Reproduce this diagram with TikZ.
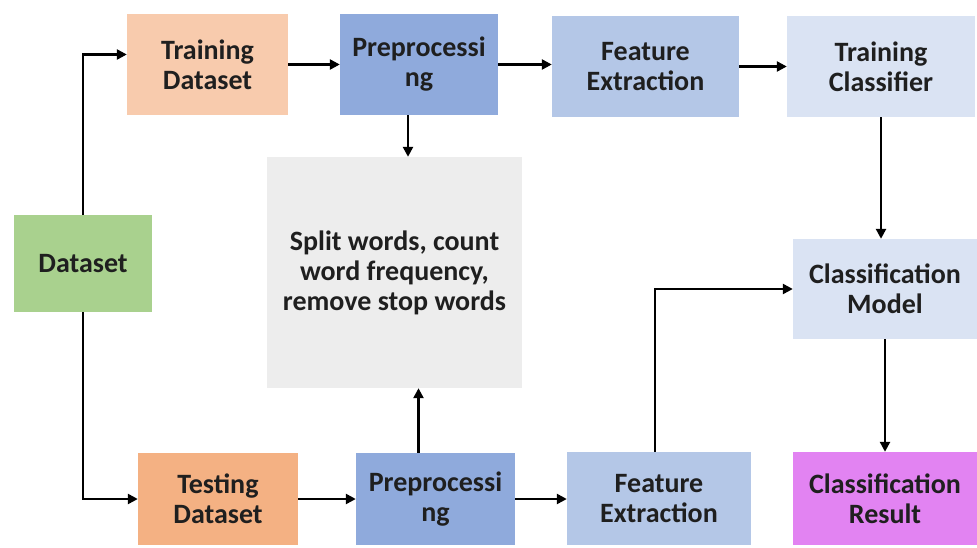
\documentclass[tikz,border=0pt]{standalone}
\usepackage{fontspec}
\setmainfont{Carlito}
\usetikzlibrary{arrows.meta,positioning}

\definecolor{datagreen}{HTML}{A9D18E}
\definecolor{trainpeach}{HTML}{F8CBAD}
\definecolor{testorange}{HTML}{F4B183}
\definecolor{prepblue}{HTML}{8FAADC}
\definecolor{featblue}{HTML}{B4C7E7}
\definecolor{clfblue}{HTML}{DAE3F3}
\definecolor{splitgray}{HTML}{EDEDED}
\definecolor{resultpink}{HTML}{E283F2}

\begin{document}
\begin{tikzpicture}[
  x=1pt, y=-1pt,
  block/.style={align=center, inner sep=0pt, text=black!88, font=\bfseries\fontsize{28}{30}\selectfont},
  arr/.style={-{Triangle[length=10pt,width=10pt]}, line width=2.4pt}
]
\useasboundingbox (0,0) rectangle (977,548);

\node[block, fill=datagreen, minimum width=138pt, minimum height=97pt] (data) at (83,263.5) {Dataset};
\node[block, fill=trainpeach, minimum width=161pt, minimum height=101pt] (trainset) at (207.5,64.5) {Training\\Dataset};
\node[block, fill=prepblue, minimum width=158pt, minimum height=101pt] (prepA) at (419,64.5) {Preprocessi\\ng};
\node[block, fill=featblue, minimum width=187pt, minimum height=101pt] (featA) at (645.5,66.5) {Feature\\Extraction};
\node[block, fill=clfblue, minimum width=188pt, minimum height=101pt] (trainclf) at (881,66.5) {Training\\Classifier};
\node[block, fill=splitgray, minimum width=255pt, minimum height=231pt] (split) at (394.5,272.5) {Split words, count\\word frequency,\\remove stop words};
\node[block, fill=clfblue, minimum width=184pt, minimum height=100pt] (model) at (885,289) {Classification\\Model};
\node[block, fill=testorange, minimum width=160pt, minimum height=92pt] (testset) at (218,499) {Testing\\Dataset};
\node[block, fill=prepblue, minimum width=159pt, minimum height=92pt] (prepB) at (435.5,499) {Preprocessi\\ng};
\node[block, fill=featblue, minimum width=184pt, minimum height=93pt] (featB) at (659,498.5) {Feature\\Extraction};
\node[block, fill=resultpink, minimum width=184pt, minimum height=93pt] (result) at (885,498.5) {Classification\\Result};

% training branch
\draw[arr] (data.north) |- ([yshift=10pt]trainset.west);
\draw[arr] (trainset) -- (prepA);
\draw[arr] (prepA.east) -- (prepA.east -| featA.west);
\draw[arr] (featA) -- (trainclf);
\draw[arr] ([xshift=-11pt]prepA.south) -- ([xshift=-11pt]prepA.south |- split.north);
\draw[arr] (trainclf.south) -- (trainclf.south |- model.north);

% testing branch
\draw[arr] (data.south) |- (testset.west);
\draw[arr] (testset) -- (prepB);
\draw[arr] ([xshift=-17pt]prepB.north) -- ([xshift=-17pt]prepB.north |- split.south);
\draw[arr] (prepB.east) -- (prepB.east -| featB.west);
\draw[arr] ([xshift=-4pt]featB.north) |- (model.west);
\draw[arr] (model) -- (result);
\end{tikzpicture}
\end{document}
